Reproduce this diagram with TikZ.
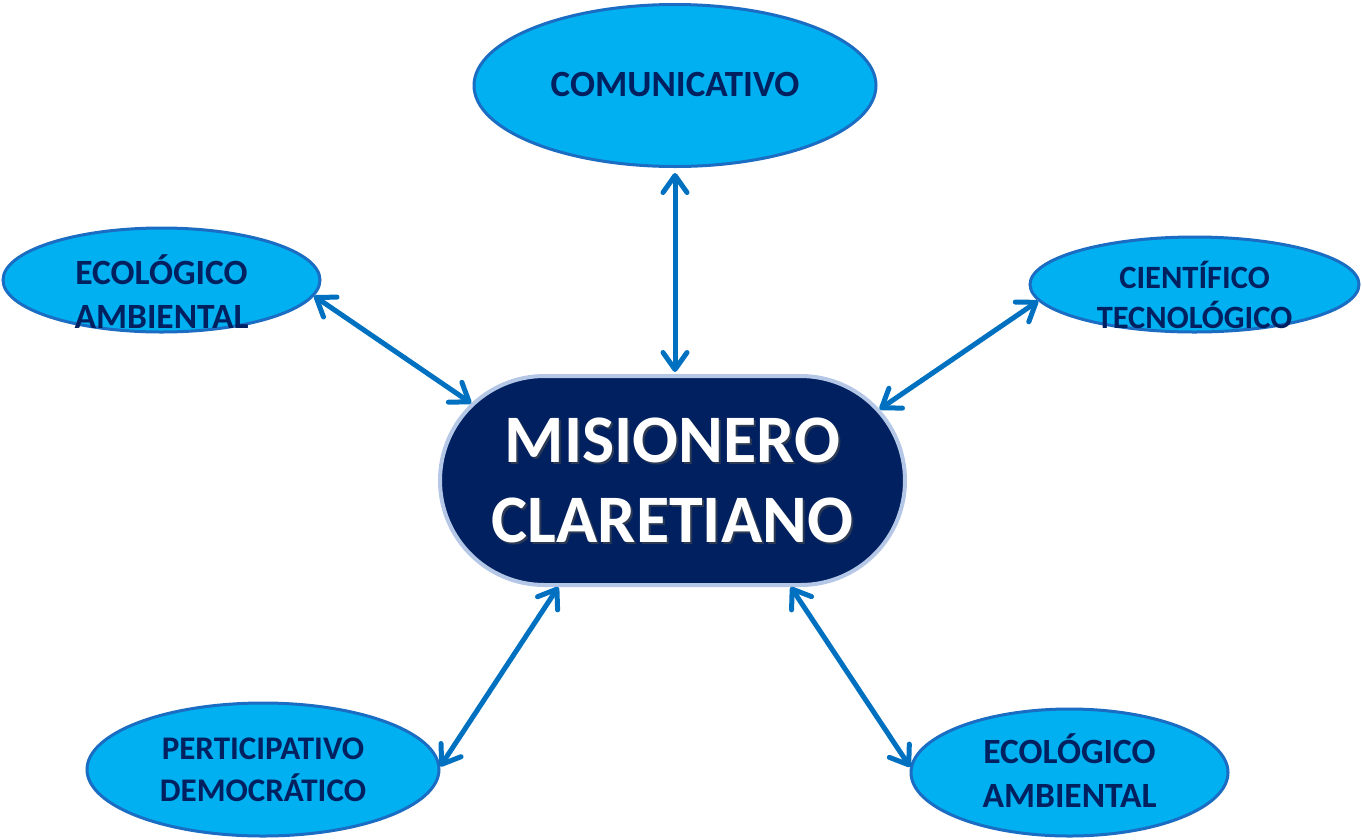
\documentclass[tikz,border=0pt]{standalone}
\usepackage{fontspec}
\setmainfont{Carlito}
\usetikzlibrary{shapes.geometric,shapes.misc,arrows.meta}
\definecolor{ellfill}{HTML}{00B0F0}
\definecolor{elldraw}{HTML}{1A6DC2}
\definecolor{arrowcol}{HTML}{0070C0}
\definecolor{navy}{HTML}{002060}
\definecolor{paleblue}{HTML}{B4C7E7}
\tikzset{
  ell/.style={ellipse, fill=ellfill, draw=elldraw, line width=3pt, inner sep=0pt},
  elltext/.style 2 args={text=navy, font=\bfseries\fontsize{#1}{#2}\selectfont, align=center, inner sep=0pt},
  centerbox/.style={rounded rectangle, fill=navy, draw=paleblue, line width=4pt, inner sep=0pt,
     minimum width=465pt, minimum height=209pt},
  centertext/.style={text=white, font=\bfseries\fontsize{68}{80}\selectfont, align=center, inner sep=0pt},
  link/.style={draw=arrowcol, line width=5pt, line cap=round,
     {Straight Barb[length=17pt,width=24pt,line cap=round,line join=round]}-{Straight Barb[length=17pt,width=24pt,line cap=round,line join=round]}}
}
\begin{document}
\begin{tikzpicture}[x=1pt,y=-1pt]
\useasboundingbox (0,0) rectangle (1362,839);
\node[centerbox,
  label={[centertext,text=black!70,opacity=0.6,xshift=2pt,yshift=-2pt]center:MISIONERO\\CLARETIANO},
  label={[centertext]center:MISIONERO\\CLARETIANO}] (C) at (672.5,480.5) {};
\node[ell, minimum width=402pt, minimum height=162pt,
  label={[elltext={37}{44},yshift=1pt]center:COMUNICATIVO}] (T) at (675,85.5) {};
\node[ell, minimum width=317pt, minimum height=104pt,
  label={[elltext={35.5}{44},yshift=-12pt]center:ECOLÓGICO\\AMBIENTAL}] (L) at (161.5,280) {};
\node[ell, minimum width=329pt, minimum height=95pt,
  label={[elltext={32.5}{40},yshift=-10pt]center:CIENTÍFICO\\TECNOLÓGICO}] (R) at (1194.5,284.5) {};
\node[ell, minimum width=352pt, minimum height=133pt,
  label={[elltext={33}{42}]center:PERTICIPATIVO\\DEMOCRÁTICO}] (BL) at (263,769.5) {};
\node[ell, minimum width=317pt, minimum height=127pt,
  label={[elltext={35.5}{44},yshift=2pt]center:ECOLÓGICO\\AMBIENTAL}] (BR) at (1069.5,772.5) {};
\coordinate (Ctop) at (T.south |- C.north);
\draw[link, shorten <=5pt, shorten >=2pt] (T.south) -- (Ctop);
\draw[link] (L.-6.4) -- (C.159.8);
\draw[link] (R.-174.6) -- (C.19.9);
\draw[link] (BL.1) -- (C.-137.3);
\draw[link] (BR.178) -- (C.-42.2);
\end{tikzpicture}
\end{document}
